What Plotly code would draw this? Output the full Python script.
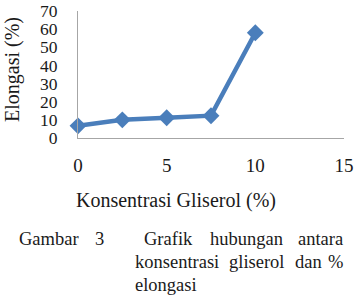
import plotly.graph_objects as go

konsentrasi = [0, 2.5, 5, 7.5, 10]
elongasi = [6.7, 10.0, 11.2, 12.3, 58.0]
x_ticks = [0, 5, 10, 15]
y_ticks = [0, 10, 20, 30, 40, 50, 60, 70]

FONT = "Liberation Serif"
BLUE = "#4a7ebb"
TXT = "#1a1a1a"

W, H = 355, 298
L, R, T, B = 78, 11, 11, 160

fig = go.Figure()
fig.add_trace(go.Scatter(
    x=konsentrasi, y=elongasi, mode="lines+markers",
    line=dict(color=BLUE, width=4.5),
    marker=dict(symbol="diamond", size=13, color=BLUE),
    cliponaxis=False, showlegend=False,
))

fig.update_layout(
    width=W, height=H, autosize=False,
    margin=dict(l=L, r=R, t=T, b=B),
    paper_bgcolor="white", plot_bgcolor="white",
    font=dict(family=FONT, color=TXT),
    xaxis=dict(range=[0, 15], tickvals=x_ticks, showgrid=False, zeroline=False,
               showline=True, linecolor="#a6a6a6", linewidth=1, automargin=False,
               tickfont=dict(family=FONT, size=19), ticks="", ticklabelstandoff=10,
               ticklabeloverflow="allow"),
    yaxis=dict(range=[0, 70], tickvals=y_ticks, showgrid=False, zeroline=False,
               showline=True, linecolor="#a6a6a6", linewidth=1, automargin=False,
               tickfont=dict(family=FONT, size=17.5), ticks="", ticklabelstandoff=16,
               ticklabeloverflow="allow"),
)

def px(xp, yp):
    return (xp - L) / (W - L - R), (H - B - yp) / (H - B - T)

def ann(text, xp, yp, xanchor="left", size=18.5, angle=0):
    x, y = px(xp, yp)
    fig.add_annotation(text=text, x=x, y=y, xref="paper", yref="paper",
                       xanchor=xanchor, yanchor="middle", showarrow=False,
                       textangle=angle, font=dict(family=FONT, size=size, color=TXT))

# axis titles
ann("Elongasi (%)", 12, 70, xanchor="center", size=20, angle=-90)
ann("Konsentrasi Gliserol (%)", 176, 200, xanchor="center", size=20)

# caption (justified by word placement)
words = [
    ("Gambar", 17, 239, "left"), ("3", 106, 239, "right"),
    ("Grafik", 142, 239, "left"), ("hubungan", 208, 239, "left"), ("antara", 345, 239, "right"),
    ("konsentrasi", 133, 262, "left"), ("gliserol", 227, 262, "left"),
    ("dan", 293, 262, "left"), ("%", 345, 262, "right"),
    ("elongasi", 133, 285, "left"),
]
for w, xp, yp, xa in words:
    ann(w, xp, yp, xanchor=xa)

fig.write_html("out.html")
